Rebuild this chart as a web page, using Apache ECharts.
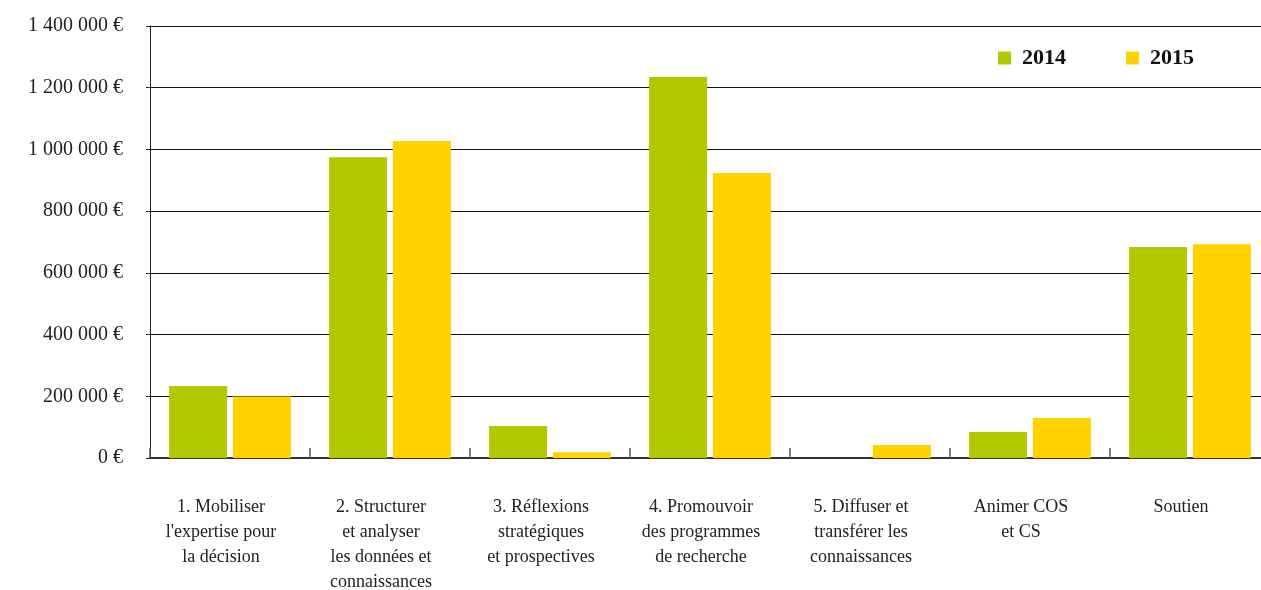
<!DOCTYPE html>
<html><head><meta charset="utf-8">
<script src="https://cdn.jsdelivr.net/npm/echarts@6/dist/echarts.min.js"></script>
<style>html,body{margin:0;padding:0;background:#fff}#c{width:1261px;height:590px}</style>
</head><body><div id="c"></div>
<script>
const categories = [
  "1. Mobiliser\nl'expertise pour\nla décision",
  "2. Structurer\net analyser\nles données et\nconnaissances",
  "3. Réflexions\nstratégiques\net prospectives",
  "4. Promouvoir\ndes programmes\nde recherche",
  "5. Diffuser et\ntransférer les\nconnaissances",
  "Animer COS\net CS",
  "Soutien"
];
const series2014 = [233000, 975000, 104000, 1235000, 0, 84000, 684000];
const series2015 = [199000, 1027000, 19000, 924000, 42000, 130000, 693000];
const yTickLabels = {0:"0 €",200000:"200 000 €",400000:"400 000 €",600000:"600 000 €",800000:"800 000 €",1000000:"1 000 000 €",1200000:"1 200 000 €",1400000:"1 400 000 €"};

const font = "'Liberation Serif', 'DejaVu Serif', serif";
const chart = echarts.init(document.getElementById('c'), null, {renderer:'canvas'});
chart.setOption({
  animation:false,
  textStyle:{fontFamily:font},
  grid:{left:150, top:26, width:1120, height:432, containLabel:false, outerBoundsMode:'none'},
  legend:{
    data:['2014','2015'], left:993, top:42, itemWidth:13, itemHeight:13, itemGap:60,
    icon:'rect',
    textStyle:{fontFamily:font, fontSize:22, fontWeight:'bold', color:'#111', padding:[0,0,0,6]}
  },
  xAxis:{
    type:'category', data:categories,
    axisLine:{lineStyle:{color:'#333', width:2}},
    axisTick:{show:true, inside:true, length:10, lineStyle:{color:'#555', width:1.5}},
    axisLabel:{fontFamily:font, fontSize:18, color:'#222', lineHeight:25, margin:37, interval:0, padding:[0,18,0,0]}
  },
  yAxis:{
    type:'value', min:0, max:1400000, interval:200000,
    axisLine:{show:true, lineStyle:{color:'#222', width:1}},
    axisTick:{show:true, length:4, lineStyle:{color:'#222'}},
    splitLine:{lineStyle:{color:'#111', width:1}},
    axisLabel:{fontFamily:font, fontSize:20, color:'#222', margin:27, formatter:v=>yTickLabels[v]}
  },
  series:[
    {name:'2014', type:'bar', data:series2014, barWidth:58, barGap:'10%', itemStyle:{color:'#b4c800'}},
    {name:'2015', type:'bar', data:series2015, barWidth:58, itemStyle:{color:'#ffd200'}}
  ]
});
</script></body></html>
